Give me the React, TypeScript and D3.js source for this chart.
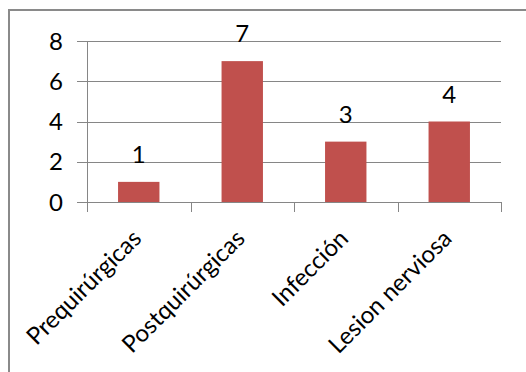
import React from "react";
import * as d3 from "d3";

const categories = ["Prequirúrgicas", "Postquirúrgicas", "Infección", "Lesion nerviosa"];
const counts = [1, 7, 3, 4];
const yTicks = [0, 2, 4, 6, 8];

const W = 526;
const H = 372;
const FONT = "Lato, 'DejaVu Sans', sans-serif";
const BAR = "#C0504D";
const GRID = "#868686";

export default function App() {
  const x = d3
    .scaleBand<string>()
    .domain(categories)
    .range([87, 501])
    .paddingInner(0.6)
    .paddingOuter(0.3);
  const y = d3.scaleLinear().domain([0, 8]).range([202, 41]);
  const step = x.step();
  const x0 = 87;
  const boundaries = d3.range(categories.length + 1).map((i) => x0 + i * step);

  return (
    <svg
      width={W}
      height={H}
      style={{ position: "absolute", left: 0, top: 0, background: "#fff" }}
      fontFamily={FONT}
    >
      {/* chart frame, cropped on the right and bottom */}
      <rect x={9} y={10} width={W + 20} height={H + 20} fill="#fff" stroke="#8a8a8a" strokeWidth={2} />

      {/* horizontal gridlines with outside ticks */}
      {yTicks.map((t) => (
        <g key={t}>
          <line x1={77} x2={501} y1={Math.round(y(t)) + 0.5} y2={Math.round(y(t)) + 0.5} stroke={GRID} strokeWidth={1} />
          <text x={63} y={y(t)} dy="0.36em" textAnchor="end" fontSize={24} fill="#000">
            {t}
          </text>
        </g>
      ))}

      {/* value axis line */}
      <line x1={87.5} x2={87.5} y1={y(8)} y2={212} stroke={GRID} strokeWidth={1} />

      {/* category tick marks */}
      {boundaries.map((bx, i) => (
        <line key={i} x1={Math.round(bx) + 0.5} x2={Math.round(bx) + 0.5} y1={202} y2={212} stroke={GRID} strokeWidth={1} />
      ))}

      {/* bars and value labels */}
      {categories.map((c, i) => {
        const bx = x(c)!;
        const bw = x.bandwidth();
        const top = y(counts[i]);
        return (
          <g key={c}>
            <rect x={bx} y={top} width={bw} height={y(0) - top} fill={BAR} />
            <text x={bx + bw / 2} y={top - 19} textAnchor="middle" fontSize={24} fill="#000">
              {counts[i]}
            </text>
          </g>
        );
      })}

      {/* rotated category labels */}
      {categories.map((c) => {
        const cx = x(c)! + x.bandwidth() / 2;
        return (
          <text
            key={c}
            transform={`translate(${cx + 4},240) rotate(-45)`}
            textAnchor="end"
            fontSize={24}
            fill="#000"
          >
            {c}
          </text>
        );
      })}
    </svg>
  );
}
